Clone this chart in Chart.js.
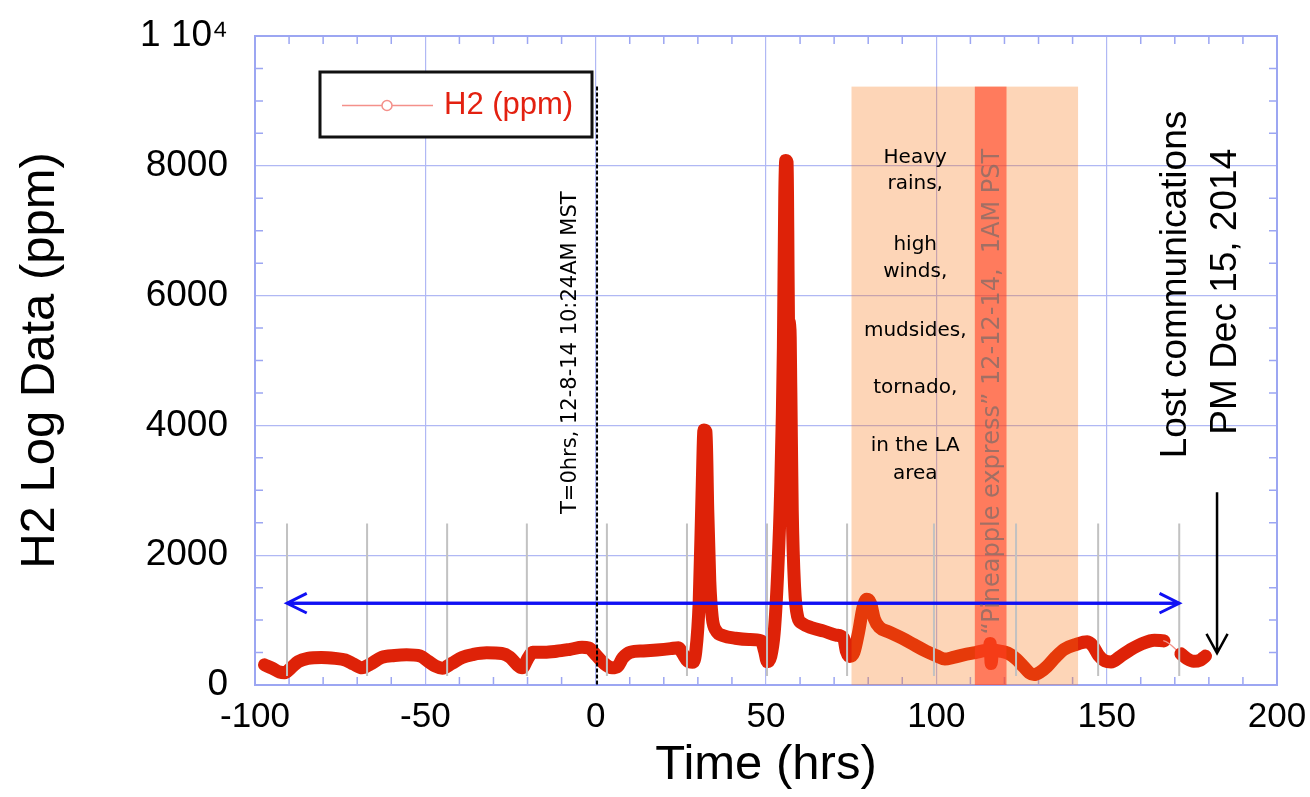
<!DOCTYPE html>
<html lang="en">
<head>
  <meta charset="UTF-8">
  <script src="https://cdn.jsdelivr.net/npm/chart.js"></script>
  <style>
    html, body { margin: 0; padding: 0; background: #fff; }
    #wrap { width: 1310px; height: 797px; }
  </style>
</head>
<body>
  <div id="wrap"><canvas id="h2Chart" width="1310" height="797"></canvas></div>

  <script>
    // H2 logger trace, hours relative to T=0 (12-8-14 10:24AM MST)
    const hours = [
      -97.2, -95.0, -92.8, -91.3, -89.5, -87.3, -84.5, -80.5, -76.5, -73.5,
      -71.0, -68.6, -66.2, -62.8, -59.0, -55.5, -51.5, -49.3, -47.0, -45.0,
      -42.3, -39.2, -36.0, -32.0, -27.5, -25.2, -23.0, -21.6, -19.8, -18.5,
      -15.0, -11.5, -7.5, -4.0, -2.0, 0.3, 2.3, 4.8, 6.5, 8.0,
      10.2, 14.0, 18.0, 22.0, 24.3, 25.6, 27.0, 28.4, 29.4, 30.4,
      31.2, 31.8, 32.4, 32.9, 33.5, 34.2, 35.3, 37.5, 41.0, 45.0,
      48.6, 49.6, 50.4, 51.4, 52.4, 53.4, 54.3, 55.1, 55.5, 55.8,
      56.2, 56.4, 56.6, 57.0, 57.3, 57.7, 58.4, 59.3, 60.6, 63.5,
      67.0, 70.5, 72.8, 73.6, 74.6, 75.8, 77.2, 78.5, 79.6, 80.7,
      81.8, 83.3, 86.0, 90.0, 93.5, 97.0, 100.0, 102.5, 105.0, 108.0,
      111.5, 114.8, 115.5, 115.8, 116.1, 116.5, 119.0, 121.0, 123.5, 125.5,
      127.3, 128.7, 130.5, 132.5, 135.0, 137.5, 141.0, 144.3, 146.0, 147.6,
      149.5, 151.3, 154.0, 157.0, 160.5, 164.0, 166.8, 171.8, 173.6, 175.5,
      177.5, 179.0
    ];
    const h2ppm = [
      310, 260, 200, 190, 260, 360, 410, 425, 410, 385,
      320, 265, 320, 425, 455, 465, 445, 370, 290, 260,
      330, 425, 470, 495, 485, 430, 310, 265, 420, 505,
      505, 520, 550, 580, 570, 450, 340, 265, 290, 420,
      505, 525, 540, 560, 575, 480, 370, 350, 520, 1300,
      2900, 3930, 3900, 2700, 1600, 1050, 840, 760, 720, 700,
      680, 520, 360, 440, 800, 1700, 3000, 5200, 7500, 8080,
      8050, 7000, 5600, 5580, 4500, 2700, 1500, 1050, 950, 880,
      830, 770, 720, 520, 440, 500, 820, 1200, 1320, 1260,
      1020, 890, 820, 720, 620, 520, 450, 400, 425, 465,
      500, 535, 545, 640, 330, 535, 520, 490, 400, 290,
      190, 160, 200, 285, 430, 550, 625, 665, 600, 460,
      370, 355, 440, 545, 640, 690, 680, 480, 405, 365,
      385, 445
    ];

    // axis ticks
    const xTicks = [-100, -50, 0, 50, 100, 150, 200];
    const yTicks = [0, 2000, 4000, 6000, 8000, 10000];
    const yTickLabels = ['0', '2000', '4000', '6000', '8000', '1 10\u2074'];

    // daily markers (hrs) and their vertical extent (ppm)
    const dayMarks = [-90.6, -67.1, -43.6, -20.2, 3.3, 26.8, 50.3, 73.8, 99.3, 123.4, 147.5, 171.3];
    const dayMarkSpan = [140, 2490];

    // storm window and the "pineapple express" peak (hrs), top edge (ppm)
    const stormWindow = [75.1, 141.6];
    const pineappleWindow = [111.3, 120.6];
    const noteTop = 9220;

    // event markers
    const tZero = 0.4;
    const dayArrow = { from: -90.6, to: 171.3, at: 1260 };
    const lostArrow = { x: 182.4, from: 2970, to: 490 };

    const stormNotes = [
      ['Heavy', 8120], ['rains,', 7720], ['high', 6790], ['winds,', 6360],
      ['mudsides,', 5450], ['tornado,', 4580], ['in the LA', 3690], ['area', 3260]
    ];
    const stormNotesX = 93.8;

    const SANS = "'Liberation Sans', Arial, sans-serif";
    const VERD = "'DejaVu Sans', Verdana, sans-serif";
    const GRID = '#b0b8f4';
    const FRAME = '#9ca6f2';
    const RED = 'rgb(222,34,8)';

    function vText(ctx, str, x, y, font, color) {
      ctx.save();
      ctx.translate(x, y);
      ctx.rotate(-Math.PI / 2);
      ctx.font = font;
      ctx.fillStyle = color;
      ctx.textAlign = 'center';
      ctx.textBaseline = 'middle';
      ctx.fillText(str, 0, 0);
      ctx.restore();
    }

    function openArrow(ctx, x1, y1, x2, y2, head, spread) {
      const a = Math.atan2(y2 - y1, x2 - x1);
      ctx.beginPath();
      ctx.moveTo(x1, y1);
      ctx.lineTo(x2, y2);
      ctx.moveTo(x2 - head * Math.cos(a - spread), y2 - head * Math.sin(a - spread));
      ctx.lineTo(x2, y2);
      ctx.lineTo(x2 - head * Math.cos(a + spread), y2 - head * Math.sin(a + spread));
      ctx.stroke();
    }

    // minor ticks + lavender frame, under the data
    const framePlugin = {
      id: 'frame',
      beforeDatasetsDraw(chart) {
        const { ctx, chartArea: a, scales: { x, y } } = chart;
        ctx.save();
        ctx.strokeStyle = FRAME;
        ctx.lineWidth = 1.5;
        ctx.beginPath();
        for (let v = -90; v < 200; v += 10) {
          if (v % 50 === 0) continue;
          const px = x.getPixelForValue(v);
          ctx.moveTo(px, a.bottom); ctx.lineTo(px, a.bottom - 8);
          ctx.moveTo(px, a.top); ctx.lineTo(px, a.top + 8);
        }
        for (let v = 500; v < 10000; v += 500) {
          if (v % 2000 === 0) continue;
          const py = y.getPixelForValue(v);
          ctx.moveTo(a.left, py); ctx.lineTo(a.left + 8, py);
          ctx.moveTo(a.right, py); ctx.lineTo(a.right - 8, py);
        }
        ctx.stroke();
        ctx.lineWidth = 2;
        ctx.strokeRect(a.left, a.top, a.right - a.left, a.bottom - a.top);
        ctx.restore();
      }
    };

    // shaded windows, markers, arrows and notes on top of the trace
    const notesPlugin = {
      id: 'notes',
      afterDatasetsDraw(chart) {
        const { ctx, chartArea: a, scales: { x, y } } = chart;
        ctx.save();

        // storm window
        const sx0 = x.getPixelForValue(stormWindow[0]);
        const sx1 = x.getPixelForValue(stormWindow[1]);
        const top = y.getPixelForValue(noteTop);
        const bot = y.getPixelForValue(0);
        ctx.fillStyle = 'rgba(248,115,18,0.3)';
        ctx.fillRect(sx0, top, sx1 - sx0, bot - top);

        const px0 = x.getPixelForValue(pineappleWindow[0]);
        const px1 = x.getPixelForValue(pineappleWindow[1]);
        ctx.fillStyle = 'rgba(255,61,31,0.6)';
        ctx.fillRect(px0, top, px1 - px0, bot - top);

        // day markers
        ctx.strokeStyle = '#c2c2c2';
        ctx.lineWidth = 2;
        ctx.beginPath();
        dayMarks.forEach(d => {
          const px = x.getPixelForValue(d);
          ctx.moveTo(px, y.getPixelForValue(dayMarkSpan[0]));
          ctx.lineTo(px, y.getPixelForValue(dayMarkSpan[1]));
        });
        ctx.stroke();

        // blue double arrow spanning the days
        ctx.strokeStyle = '#1010f4';
        ctx.lineWidth = 3;
        const ay = y.getPixelForValue(dayArrow.at);
        const ax0 = x.getPixelForValue(dayArrow.from);
        const ax1 = x.getPixelForValue(dayArrow.to);
        openArrow(ctx, ax1, ay, ax0, ay, 22, 0.46);
        openArrow(ctx, ax0, ay, ax1, ay, 22, 0.46);

        // T=0 dashed marker
        const tx = x.getPixelForValue(tZero);
        ctx.strokeStyle = '#000';
        ctx.lineWidth = 2;
        ctx.setLineDash([4, 2]);
        ctx.beginPath();
        ctx.moveTo(tx, top);
        ctx.lineTo(tx, bot);
        ctx.stroke();
        ctx.setLineDash([]);

        // lost communications arrow
        ctx.strokeStyle = '#000';
        ctx.lineWidth = 2.5;
        const lx = x.getPixelForValue(lostArrow.x);
        openArrow(ctx, lx, y.getPixelForValue(lostArrow.from), lx, y.getPixelForValue(lostArrow.to), 22, 0.5);

        // notes
        ctx.font = '20px ' + VERD;
        ctx.fillStyle = '#000';
        ctx.textAlign = 'center';
        ctx.textBaseline = 'middle';
        const nx = x.getPixelForValue(stormNotesX);
        stormNotes.forEach(([t, v]) => ctx.fillText(t, nx, y.getPixelForValue(v)));

        vText(ctx, '\u201CPineapple express\u201D 12-12-14,  1AM PST',
          x.getPixelForValue(116.5), y.getPixelForValue(4520), '24px ' + VERD, 'rgba(105,105,105,0.62)');
        vText(ctx, 'T=0hrs, 12-8-14 10:24AM MST',
          x.getPixelForValue(-7.4), y.getPixelForValue(5120), '21px ' + VERD, '#000');
        vText(ctx, 'Lost communications',
          x.getPixelForValue(170.4), y.getPixelForValue(6170), '37px ' + SANS, '#000');
        vText(ctx, 'PM Dec 15, 2014',
          x.getPixelForValue(185.1), y.getPixelForValue(6060), '37px ' + SANS, '#000');

        // legend
        const lgX = a.left + 65, lgY = a.top + 36, lgW = 272, lgH = 65;
        ctx.fillStyle = '#fff';
        ctx.fillRect(lgX, lgY, lgW, lgH);
        ctx.strokeStyle = '#111';
        ctx.lineWidth = 3;
        ctx.strokeRect(lgX, lgY, lgW, lgH);
        const my = lgY + lgH / 2 + 1;
        ctx.strokeStyle = '#f4908a';
        ctx.lineWidth = 1.5;
        ctx.beginPath();
        ctx.moveTo(lgX + 22, my); ctx.lineTo(lgX + 113, my);
        ctx.stroke();
        ctx.fillStyle = '#fff';
        ctx.beginPath();
        ctx.arc(lgX + 67, my, 5, 0, Math.PI * 2);
        ctx.fill();
        ctx.stroke();
        ctx.font = '31px ' + SANS;
        ctx.fillStyle = '#e32010';
        ctx.textAlign = 'left';
        ctx.fillText('H2 (ppm)', lgX + 124, my);

        ctx.restore();
      }
    };

    const gap = c => c.p1.parsed.x - c.p0.parsed.x > 4.5;

    new Chart(document.getElementById('h2Chart'), {
      type: 'line',
      data: {
        datasets: [{
          label: 'H2 (ppm)',
          data: hours.map((h, i) => ({ x: h, y: h2ppm[i] })),
          borderColor: RED,
          borderWidth: 13,
          borderJoinStyle: 'round',
          borderCapStyle: 'round',
          cubicInterpolationMode: 'monotone',
          pointRadius: 0,
          fill: false,
          segment: {
            borderWidth: c => (gap(c) ? 1.5 : undefined),
            borderColor: c => (gap(c) ? '#f2948c' : undefined)
          }
        }]
      },
      options: {
        responsive: false,
        animation: false,
        layout: { padding: { top: 36, right: 33, left: 0, bottom: 0 } },
        plugins: { legend: { display: false }, tooltip: { enabled: false } },
        scales: {
          x: {
            type: 'linear',
            min: -100,
            max: 200,
            afterBuildTicks: s => { s.ticks = xTicks.map(v => ({ value: v })); },
            afterFit: s => { s.height = 112; s.paddingLeft = 0; s.paddingRight = 0; },
            ticks: {
              padding: 11,
              color: '#000',
              font: { family: SANS, size: 35 },
              callback: v => String(v),
              maxRotation: 0
            },
            grid: { color: GRID, lineWidth: 1.2, drawTicks: false },
            border: { display: false },
            title: {
              display: true,
              text: 'Time (hrs)',
              color: '#000',
              font: { family: SANS, size: 49 },
              padding: { top: 0, bottom: 2 }
            }
          },
          y: {
            min: 0,
            max: 10000,
            afterBuildTicks: s => { s.ticks = yTicks.map(v => ({ value: v })); },
            afterFit: s => { s.width = 255; s.paddingTop = 0; s.paddingBottom = 0; },
            ticks: {
              padding: 27,
              color: '#000',
              font: { family: SANS, size: 37 },
              callback: (v, i) => yTickLabels[i]
            },
            grid: { color: GRID, lineWidth: 1.2, drawTicks: false },
            border: { display: false },
            title: {
              display: true,
              text: 'H2 Log Data (ppm)',
              color: '#000',
              font: { family: SANS, size: 49 },
              padding: { top: 11, bottom: 0 }
            }
          }
        }
      },
      plugins: [framePlugin, notesPlugin]
    });
  </script>
</body>
</html>
